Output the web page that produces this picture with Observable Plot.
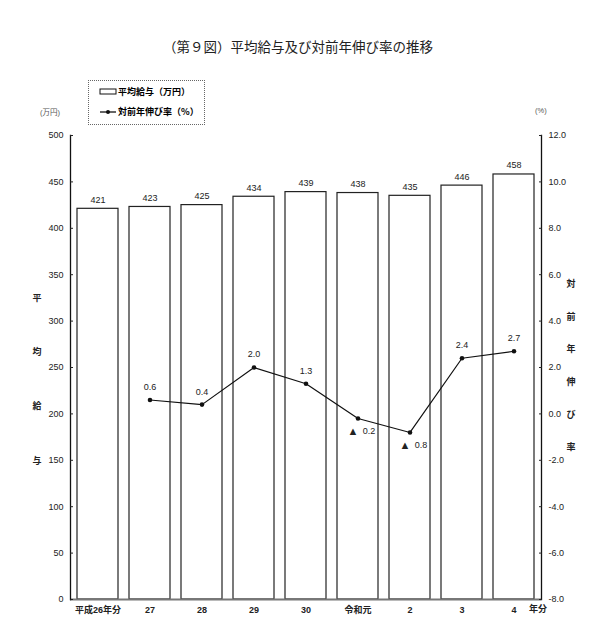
<!DOCTYPE html>
<html>
<head>
<meta charset="utf-8">
<script src="https://cdn.jsdelivr.net/npm/d3@7"></script>
<script src="https://cdn.jsdelivr.net/npm/@observablehq/plot@0.6"></script>
<style>
  body { margin: 0; background: #fff; }
  #wrap { position: relative; width: 596px; height: 635px; font-family: "Liberation Sans", "Noto Sans CJK JP", sans-serif; color: #222; }
  #chart { position: absolute; left: 0; top: 0; }
  .abs { position: absolute; white-space: nowrap; }
  #title { left: 0; width: 596px; top: 36px; text-align: center; font-size: 13.5px; font-family: "Noto Sans CJK JP", sans-serif; }
  #legend { left: 88px; top: 80px; width: 117px; height: 45px; border: 1px dotted #666; box-sizing: border-box; font-size: 9px; font-family: "Noto Sans CJK JP", sans-serif; font-weight: bold; }
  .unit { font-size: 7.5px; color: #555; }
</style>
</head>
<body>
<div id="wrap">
  <div id="chart"></div>
  <div id="title" class="abs">（第９図）平均給与及び対前年伸び率の推移</div>
  <div id="legend" class="abs"></div>
  <div class="abs unit" style="left:40px; top:106px;">(万円)</div>
  <div class="abs unit" style="left:535px; top:106px;">(%)</div>
</div>
<script>
// 年分
const years = ["平成26年分", "27", "28", "29", "30", "令和元", "2", "3", "4"]
// 平均給与（万円）
const salary = [421, 423, 425, 434, 439, 438, 435, 446, 458]
// 対前年伸び率（%）、平成26年分はなし
const growthYears = ["27", "28", "29", "30", "令和元", "2", "3", "4"]
const growth = [0.6, 0.4, 2.0, 1.3, -0.2, -0.8, 2.4, 2.7]

const leftTicks = d3.range(0, 501, 50)
const rightTicks = d3.range(-8, 12.01, 2)
const leftTitle = ["平", "均", "給", "与"]
const rightTitle = ["対", "前", "年", "伸", "び", "率"]

// 右軸 -8..12 を左軸 0..500 に重ねる
const toLeft = v => (v + 8) * 25

const salaryData = years.map((d, i) => ({year: d, value: salary[i]}))
const growthData = growthYears.map((d, i) => ({year: d, value: growth[i]}))
const pos = growthData.filter(d => d.value >= 0)
const neg = growthData.filter(d => d.value < 0)

const chart = Plot.plot({
  width: 596,
  height: 635,
  marginTop: 135,
  marginBottom: 36,
  marginLeft: 70,
  marginRight: 55,
  style: {fontFamily: "Liberation Sans, Noto Sans CJK JP, sans-serif", fontSize: "9px", color: "#222"},
  x: {type: "band", domain: years, paddingInner: 0.21, paddingOuter: 0.1},
  y: {domain: [0, 500]},
  marks: [
    Plot.barY(salaryData, {x: "year", y: "value", fill: "white", stroke: "#222", strokeWidth: 1.2}),
    Plot.ruleY([0], {stroke: "#777", strokeWidth: 2}),
    Plot.frame({anchor: "left", stroke: "#111", strokeWidth: 1.3}),
    Plot.frame({anchor: "right", stroke: "#111", strokeWidth: 1.3}),
    Plot.axisY({anchor: "left", ticks: leftTicks, tickSize: -3, tickPadding: 10, label: null}),
    Plot.axisY({anchor: "right", ticks: rightTicks.map(toLeft), tickFormat: d => (d / 25 - 8).toFixed(1), tickSize: -3, tickPadding: 10, label: null}),
    Plot.axisX({tickSize: 0, tickPadding: 7, label: null, fontWeight: "bold"}),
    Plot.text(["年分"], {x: () => "4", frameAnchor: "bottom", dx: 24, dy: 12, fontWeight: "bold"}),
    Plot.text(salaryData, {x: "year", y: "value", text: d => String(d.value), dy: -9}),
    Plot.line(growthData, {x: "year", y: d => toLeft(d.value), stroke: "#111", strokeWidth: 1.2}),
    Plot.dot(growthData, {x: "year", y: d => toLeft(d.value), r: 2.3, fill: "#111"}),
    Plot.text(pos, {x: "year", y: d => toLeft(d.value), text: d => d.value.toFixed(1), dy: -13}),
    Plot.text(neg, {x: "year", y: d => toLeft(d.value), text: () => "▲", fontSize: 11, dy: 13, dx: -5}),
    Plot.text(neg, {x: "year", y: d => toLeft(d.value), text: d => Math.abs(d.value).toFixed(1), dy: 13, dx: 11}),
    Plot.text(leftTitle, {frameAnchor: "left", y: (d, i) => 325 - i * 58.5, dx: -38, fontWeight: "bold", fontFamily: "Noto Sans CJK JP"}),
    Plot.text(rightTitle, {frameAnchor: "right", y: (d, i) => toLeft(5.6 - i * 1.41), dx: 34, fontWeight: "bold", fontFamily: "Noto Sans CJK JP"})
  ]
})

d3.select('#chart').append(() => chart)

// 凡例
const lg = d3.select('#legend').append('svg').attr('width', 115).attr('height', 43)
lg.append('rect').attr('x', 11).attr('y', 8).attr('width', 16).attr('height', 5)
  .attr('fill', 'white').attr('stroke', '#111')
lg.append('text').attr('x', 29).attr('y', 14).text('平均給与（万円）')
lg.append('line').attr('x1', 11).attr('x2', 27).attr('y1', 31).attr('y2', 31).attr('stroke', '#111').attr('stroke-width', 1.3)
lg.append('circle').attr('cx', 19).attr('cy', 31).attr('r', 2).attr('fill', '#111')
lg.append('text').attr('x', 29).attr('y', 34).text('対前年伸び率（%）')
lg.selectAll('text').attr('font-size', 9).attr('font-weight', 'bold')
</script>
</body>
</html>
